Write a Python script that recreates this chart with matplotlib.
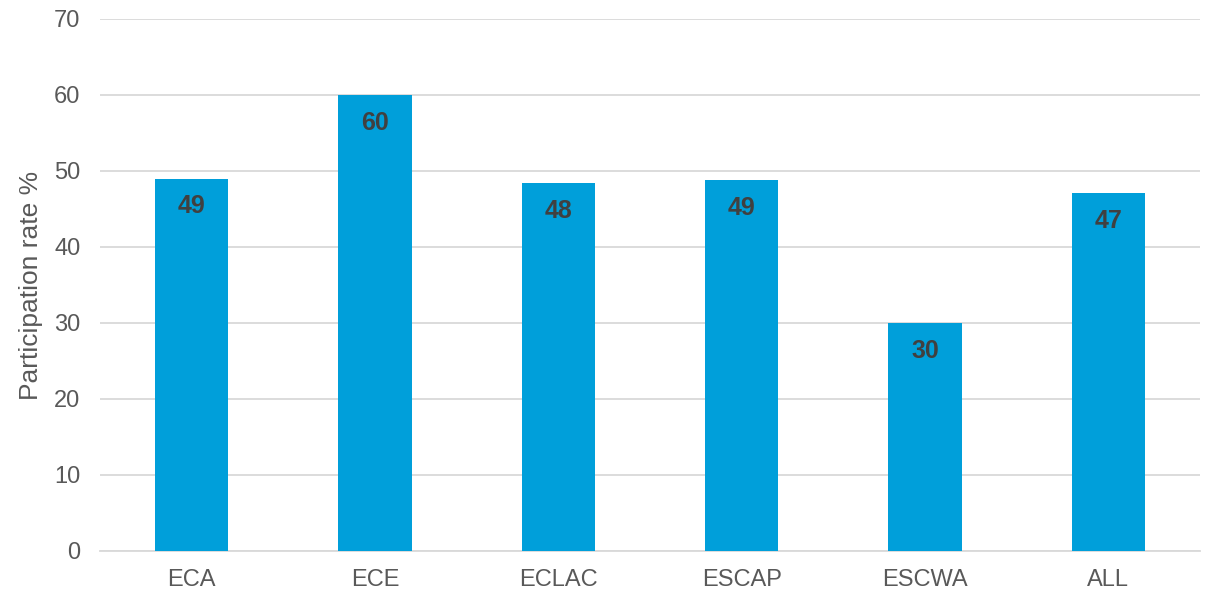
import numpy as np
import matplotlib.pyplot as plt

plt.rcParams['font.family'] = ['Liberation Sans', 'DejaVu Sans']

regions = ['ECA', 'ECE', 'ECLAC', 'ESCAP', 'ESCWA', 'ALL']
rates = [49.0, 60.0, 48.4, 48.8, 30.0, 47.1]

fig = plt.figure(figsize=(12.12, 5.91), dpi=100)
ax = fig.add_axes([0.0825, 0.0677, 0.9075, 0.9002])

x = np.arange(len(regions))
bars = ax.bar(x, rates, width=0.4, color='#009FDA', zorder=3)

for rect, val in zip(bars, rates):
    ax.annotate(f'{val:.0f}', (rect.get_x() + rect.get_width() / 2, rect.get_height()),
                xytext=(0, -20), textcoords='offset points', ha='center', va='center',
                fontsize=18, fontweight='bold', color='#404040', zorder=4)

ax.set_xlim(-0.5, len(regions) - 0.5)
ax.set_ylim(0, 70)
ax.set_yticks(np.arange(0, 71, 10))
ax.set_xticks(x, regions)
ax.grid(axis='y', color='#D9D9D9', linewidth=1.3, zorder=0)
for side in ['top', 'right', 'left']:
    ax.spines[side].set_visible(False)
ax.spines['bottom'].set_color('#D9D9D9')
ax.spines['bottom'].set_linewidth(1.3)
ax.tick_params(axis='both', length=0, labelsize=17, labelcolor='#595959')
ax.tick_params(axis='y', pad=14)
ax.tick_params(axis='x', pad=13)
ax.set_ylabel('Participation rate %', fontsize=19, color='#595959', labelpad=8)

fig.savefig('out.png', dpi=100)
